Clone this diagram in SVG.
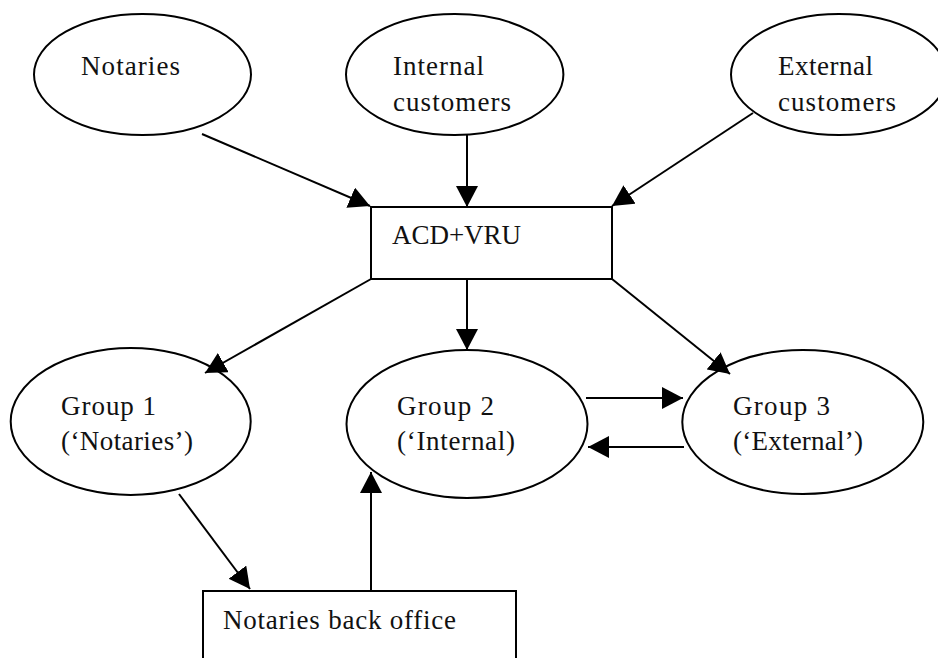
<svg xmlns="http://www.w3.org/2000/svg" width="938" height="658" viewBox="0 0 938 658">
  <style>
    .shape { fill: #ffffff; stroke: #000000; stroke-width: 2; }
    .link { fill: none; stroke: #000000; stroke-width: 2; marker-end: url(#head); }
    .label { font-size: 27px; fill: #111111; }
  </style>
  <defs>
    <marker id="head" markerUnits="userSpaceOnUse" markerWidth="23" markerHeight="23" refX="21" refY="11" orient="auto">
      <path d="M0,0 L21,11 L0,22 Z" fill="#000000"/>
    </marker>
  </defs>
  <rect width="938" height="658" fill="#ffffff"/>

  <g font-family="Liberation Serif, DejaVu Serif, serif">
    <g id="notaries">
      <ellipse class="shape" cx="142.5" cy="74.5" rx="108.5" ry="60.5"/>
      <text class="label" x="81" y="75" textLength="99" lengthAdjust="spacing">Notaries</text>
    </g>
    <g id="internal-customers">
      <ellipse class="shape" cx="454.7" cy="74.5" rx="108.7" ry="60.5"/>
      <text class="label" x="393" y="75" textLength="91" lengthAdjust="spacing">Internal</text>
      <text class="label" x="393" y="111" textLength="118" lengthAdjust="spacing">customers</text>
    </g>
    <g id="external-customers">
      <ellipse class="shape" cx="839" cy="74.5" rx="108" ry="60.5"/>
      <text class="label" x="778" y="75" textLength="95" lengthAdjust="spacing">External</text>
      <text class="label" x="778" y="111" textLength="118" lengthAdjust="spacing">customers</text>
    </g>
    <g id="acd-vru">
      <rect class="shape" x="371" y="207" width="241" height="72"/>
      <text class="label" x="392" y="244" textLength="129" lengthAdjust="spacing">ACD+VRU</text>
    </g>
    <g id="group-1">
      <ellipse class="shape" cx="130.7" cy="421.5" rx="120" ry="73.5"/>
      <text class="label" x="61" y="415" textLength="95" lengthAdjust="spacing">Group 1</text>
      <text class="label" x="61" y="450" textLength="132" lengthAdjust="spacing">(‘Notaries’)</text>
    </g>
    <g id="group-2">
      <ellipse class="shape" cx="467" cy="424" rx="120.5" ry="74"/>
      <text class="label" x="397" y="415" textLength="97" lengthAdjust="spacing">Group 2</text>
      <text class="label" x="397" y="450" textLength="118" lengthAdjust="spacing">(‘Internal)</text>
    </g>
    <g id="group-3">
      <ellipse class="shape" cx="802.8" cy="422" rx="120.5" ry="72"/>
      <text class="label" x="733" y="415" textLength="97" lengthAdjust="spacing">Group 3</text>
      <text class="label" x="733" y="450" textLength="130" lengthAdjust="spacing">(‘External’)</text>
    </g>
    <g id="notaries-back-office">
      <rect class="shape" x="203" y="591" width="313" height="90"/>
      <text class="label" x="223" y="629" textLength="233" lengthAdjust="spacing">Notaries back office</text>
    </g>
  </g>

  <g id="connectors">
    <path class="link" d="M202,134 L370,206"/>
    <path class="link" d="M467,135 L467,207"/>
    <path class="link" d="M753,113 L612,206"/>
    <path class="link" d="M371,279 L205,373"/>
    <path class="link" d="M467,279 L467,350"/>
    <path class="link" d="M612,279 L730,374"/>
    <path class="link" d="M586,398 L683,398"/>
    <path class="link" d="M684,447 L588,447"/>
    <path class="link" d="M179,494 L250,589"/>
    <path class="link" d="M371,591 L371,472"/>
  </g>
</svg>
